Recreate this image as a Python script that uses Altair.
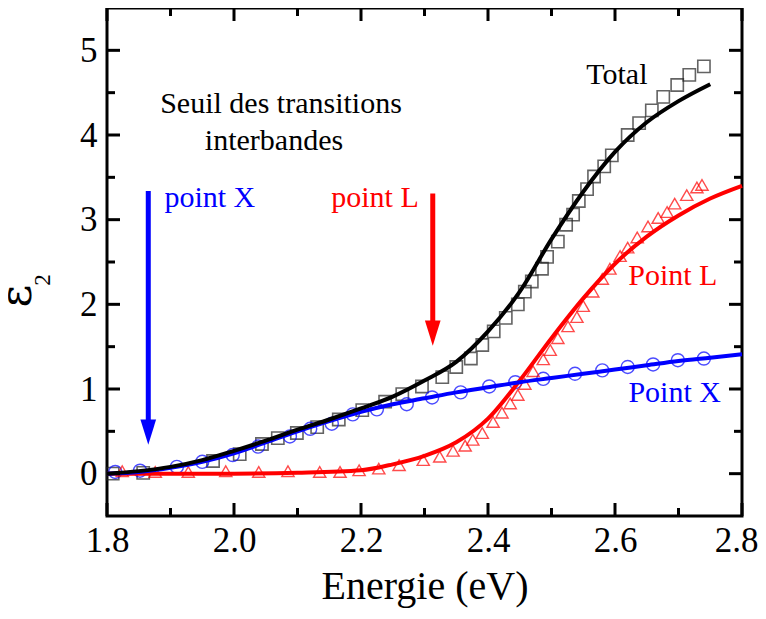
import altair as alt
import pandas as pd

FONT = "Liberation Serif"
BLUE = "#0000FF"
RED = "#FF0000"
W, H = 635, 508

# ---- experimental points ----
total_E = [1.809, 1.857, 1.967, 2.009, 2.044, 2.069, 2.099, 2.131, 2.165, 2.202, 2.238, 2.265,
           2.296, 2.328, 2.350, 2.373, 2.391, 2.409, 2.428, 2.447, 2.458, 2.469, 2.485, 2.493,
           2.510, 2.523, 2.534, 2.543, 2.556, 2.567, 2.583, 2.595, 2.620, 2.638, 2.658, 2.676,
           2.698, 2.717, 2.740]
total_eps = [0.00, 0.01, 0.15, 0.23, 0.35, 0.42, 0.48, 0.55, 0.64, 0.75, 0.85, 0.94,
             1.03, 1.14, 1.26, 1.36, 1.52, 1.68, 1.84, 2.00, 2.15, 2.27, 2.42, 2.56,
             2.74, 2.94, 3.06, 3.22, 3.36, 3.51, 3.63, 3.76, 4.00, 4.14, 4.29, 4.45,
             4.59, 4.71, 4.81]

x_E = [1.813, 1.852, 1.910, 1.950, 1.998, 2.038, 2.088, 2.120, 2.154, 2.187, 2.225, 2.272,
       2.312, 2.357, 2.402, 2.443, 2.487, 2.537, 2.580, 2.620, 2.660, 2.699, 2.740]
x_eps = [0.02, 0.035, 0.08, 0.14, 0.22, 0.32, 0.44, 0.53, 0.59, 0.70, 0.76, 0.82,
         0.90, 0.96, 1.03, 1.08, 1.12, 1.18, 1.22, 1.26, 1.29, 1.34, 1.36]

l_E = [1.824, 1.876, 1.928, 1.987, 2.039, 2.085, 2.135, 2.167, 2.197, 2.228, 2.260, 2.298,
       2.324, 2.345, 2.364, 2.376, 2.391, 2.408, 2.422, 2.435, 2.447, 2.458, 2.471, 2.487,
       2.498, 2.510, 2.526, 2.540, 2.550, 2.565, 2.580, 2.592, 2.608, 2.620, 2.635, 2.652,
       2.668, 2.682, 2.694, 2.713, 2.729, 2.737]
l_eps = [0.03, 0.02, 0.02, 0.03, 0.02, 0.03, 0.02, 0.02, 0.04, 0.06, 0.10, 0.16,
         0.20, 0.27, 0.33, 0.40, 0.48, 0.61, 0.72, 0.83, 0.93, 1.06, 1.21, 1.35,
         1.46, 1.60, 1.74, 1.85, 1.98, 2.15, 2.30, 2.42, 2.57, 2.67, 2.79, 2.92,
         3.02, 3.09, 3.19, 3.29, 3.38, 3.41]

# ---- fitted curves ----
fit_total_E = [1.80, 1.85, 1.90, 1.95, 2.00, 2.05, 2.10, 2.15, 2.20, 2.25, 2.30, 2.35,
               2.40, 2.45, 2.50, 2.55, 2.60, 2.65, 2.70, 2.75]
fit_total = [0.00, 0.03, 0.08, 0.16, 0.27, 0.39, 0.52, 0.64, 0.77, 0.91, 1.10, 1.32,
             1.68, 2.15, 2.77, 3.33, 3.80, 4.15, 4.40, 4.60]

fit_x_E = [1.80, 1.85, 1.90, 1.95, 2.00, 2.05, 2.10, 2.15, 2.20, 2.25, 2.30, 2.35,
           2.40, 2.45, 2.50, 2.55, 2.60, 2.65, 2.70, 2.75, 2.80]
fit_x = [0.00, 0.02, 0.07, 0.14, 0.24, 0.37, 0.50, 0.62, 0.73, 0.82, 0.89, 0.96,
         1.02, 1.08, 1.13, 1.18, 1.23, 1.28, 1.33, 1.37, 1.41]

fit_l_E = [1.80, 1.90, 2.00, 2.10, 2.20, 2.25, 2.30, 2.35, 2.40, 2.45, 2.50, 2.55,
           2.60, 2.65, 2.70, 2.75, 2.80]
fit_l = [0.00, 0.00, 0.00, 0.01, 0.04, 0.11, 0.21, 0.37, 0.65, 1.10, 1.60, 2.07,
         2.48, 2.80, 3.05, 3.25, 3.40]

# ---- axis ticks ----
x_major = [1.8, 2.0, 2.2, 2.4, 2.6, 2.8]
x_minor = [1.9, 2.1, 2.3, 2.5, 2.7]
y_major = [0, 1, 2, 3, 4, 5]
y_minor = [0.5, 1.5, 2.5, 3.5, 4.5]

# ---- annotations ----
arrow_E = [1.865, 2.313]
arrow_top = [3.34, 3.31]
arrow_bottom = [0.62, 1.80]
arrow_head = [0.49, 1.66]
arrow_color = [BLUE, RED]

ann_text = ["Seuil des transitions", "interbandes", "point X", "point L", "Total", "Point L", "Point X"]
ann_E = [2.074, 2.063, 1.962, 2.222, 2.603, 2.691, 2.694]
ann_eps = [4.37, 3.93, 3.26, 3.26, 4.71, 2.34, 0.95]
ann_color = ["black", "black", BLUE, RED, "black", RED, BLUE]

xs = alt.Scale(domain=[1.8, 2.8], nice=False, zero=False)
ys = alt.Scale(domain=[-0.5, 5.5], nice=False, zero=False)

x_axis = alt.Axis(values=x_major, format=".1f", ticks=False, domain=False, grid=False,
                  labelFont=FONT, labelFontSize=35, labelColor="black", labelPadding=7,
                  labelFlush=False, labelOverlap=False,
                  labelOffset=alt.expr("datum.value > 2.79 ? -6 : 0"),
                  title="Energie (eV)", titleFont=FONT, titleFontSize=40,
                  titleFontWeight="normal", titleColor="black", titlePadding=8)
y_axis = alt.Axis(values=y_major, format="d", ticks=False, domain=False, grid=False,
                  labelFont=FONT, labelFontSize=35, labelColor="black", labelPadding=10,
                  labelFlush=False, labelOverlap=False, title="")


def X(field="E"):
    return alt.X(f"{field}:Q", scale=xs, axis=x_axis)


def Y(field="eps"):
    return alt.Y(f"{field}:Q", scale=ys, axis=y_axis)


df_tot = pd.DataFrame({"E": total_E, "eps": total_eps})
df_x = pd.DataFrame({"E": x_E, "eps": x_eps})
df_l = pd.DataFrame({"E": l_E, "eps": l_eps})

squares = alt.Chart(df_tot).mark_point(shape="square", filled=False, size=150,
                                       strokeWidth=1.6, color="#222222").encode(x=X(), y=Y())
circles = alt.Chart(df_x).mark_point(shape="circle", filled=False, size=170,
                                     strokeWidth=1.4, color=BLUE).encode(x=X(), y=Y())
triangles = alt.Chart(df_l).mark_point(shape="triangle-up", filled=False, size=150,
                                       strokeWidth=1.4, color=RED).encode(x=X(), y=Y())

line_l = alt.Chart(pd.DataFrame({"E": fit_l_E, "eps": fit_l})).mark_line(
    color=RED, strokeWidth=4, interpolate="monotone").encode(x=X(), y=Y())
line_x = alt.Chart(pd.DataFrame({"E": fit_x_E, "eps": fit_x})).mark_line(
    color=BLUE, strokeWidth=4, interpolate="monotone").encode(x=X(), y=Y())
line_t = alt.Chart(pd.DataFrame({"E": fit_total_E, "eps": fit_total})).mark_line(
    color="black", strokeWidth=4, interpolate="monotone").encode(x=X(), y=Y())

df_arrow = pd.DataFrame({"E": arrow_E, "top": arrow_top, "bottom": arrow_bottom,
                         "head": arrow_head, "c": arrow_color})
shafts = alt.Chart(df_arrow).mark_rule(strokeWidth=5).encode(
    x=X(), y=Y("top"), y2=alt.Y2("bottom"), color=alt.Color("c:N", scale=None))
heads = alt.Chart(df_arrow).mark_point(shape="M-0.62,-1L0.62,-1L0,1Z", filled=True,
                                       size=640, opacity=1, strokeWidth=0).encode(
    x=X(), y=Y("head"), color=alt.Color("c:N", scale=None))

df_ann = pd.DataFrame({"t": ann_text, "E": ann_E, "eps": ann_eps, "c": ann_color})
texts = alt.Chart(df_ann).mark_text(font=FONT, fontSize=30, align="center",
                                    baseline="middle").encode(
    x=X(), y=Y(), text="t:N", color=alt.Color("c:N", scale=None))

# inward ticks on all four sides
dxM = pd.DataFrame({"v": x_major})
dxm = pd.DataFrame({"v": x_minor})
dyM = pd.DataFrame({"v": y_major})
dym = pd.DataFrame({"v": y_minor})
tk = dict(color="black", strokeWidth=3)
ticks = [
    alt.Chart(dxM).mark_rule(**tk).encode(x=X("v"), y=alt.value(H), y2=alt.value(H - 13)),
    alt.Chart(dxm).mark_rule(**tk).encode(x=X("v"), y=alt.value(H), y2=alt.value(H - 8)),
    alt.Chart(dxM).mark_rule(**tk).encode(x=X("v"), y=alt.value(0), y2=alt.value(13)),
    alt.Chart(dxm).mark_rule(**tk).encode(x=X("v"), y=alt.value(0), y2=alt.value(8)),
    alt.Chart(dyM).mark_rule(**tk).encode(y=Y("v"), x=alt.value(0), x2=alt.value(13)),
    alt.Chart(dym).mark_rule(**tk).encode(y=Y("v"), x=alt.value(0), x2=alt.value(8)),
    alt.Chart(dyM).mark_rule(**tk).encode(y=Y("v"), x=alt.value(W), x2=alt.value(W - 13)),
    alt.Chart(dym).mark_rule(**tk).encode(y=Y("v"), x=alt.value(W), x2=alt.value(W - 8)),
]

# y-axis title: epsilon with subscript 2
eps_title = alt.Chart(pd.DataFrame({"t": ["ε"]})).mark_text(
    font="DejaVu Serif", fontSize=44, angle=270, align="center", baseline="alphabetic",
    color="black").encode(text="t:N", x=alt.value(-76), y=alt.value(288))
sub_title = alt.Chart(pd.DataFrame({"t": ["2"]})).mark_text(
    font=FONT, fontSize=23, angle=270, align="center", baseline="alphabetic",
    color="black").encode(text="t:N", x=alt.value(-57), y=alt.value(272))

chart = alt.layer(
    squares, circles, triangles, line_l, line_x, line_t, shafts, heads, texts,
    *ticks, eps_title, sub_title
).properties(
    width=W, height=H,
    autosize=alt.AutoSizeParams(type="none"),
    padding={"left": 99, "top": 0, "right": 16, "bottom": 95},
).configure_view(stroke="black", strokeWidth=3)

chart.save("out.html", embed_options={"renderer": "svg", "actions": False})
